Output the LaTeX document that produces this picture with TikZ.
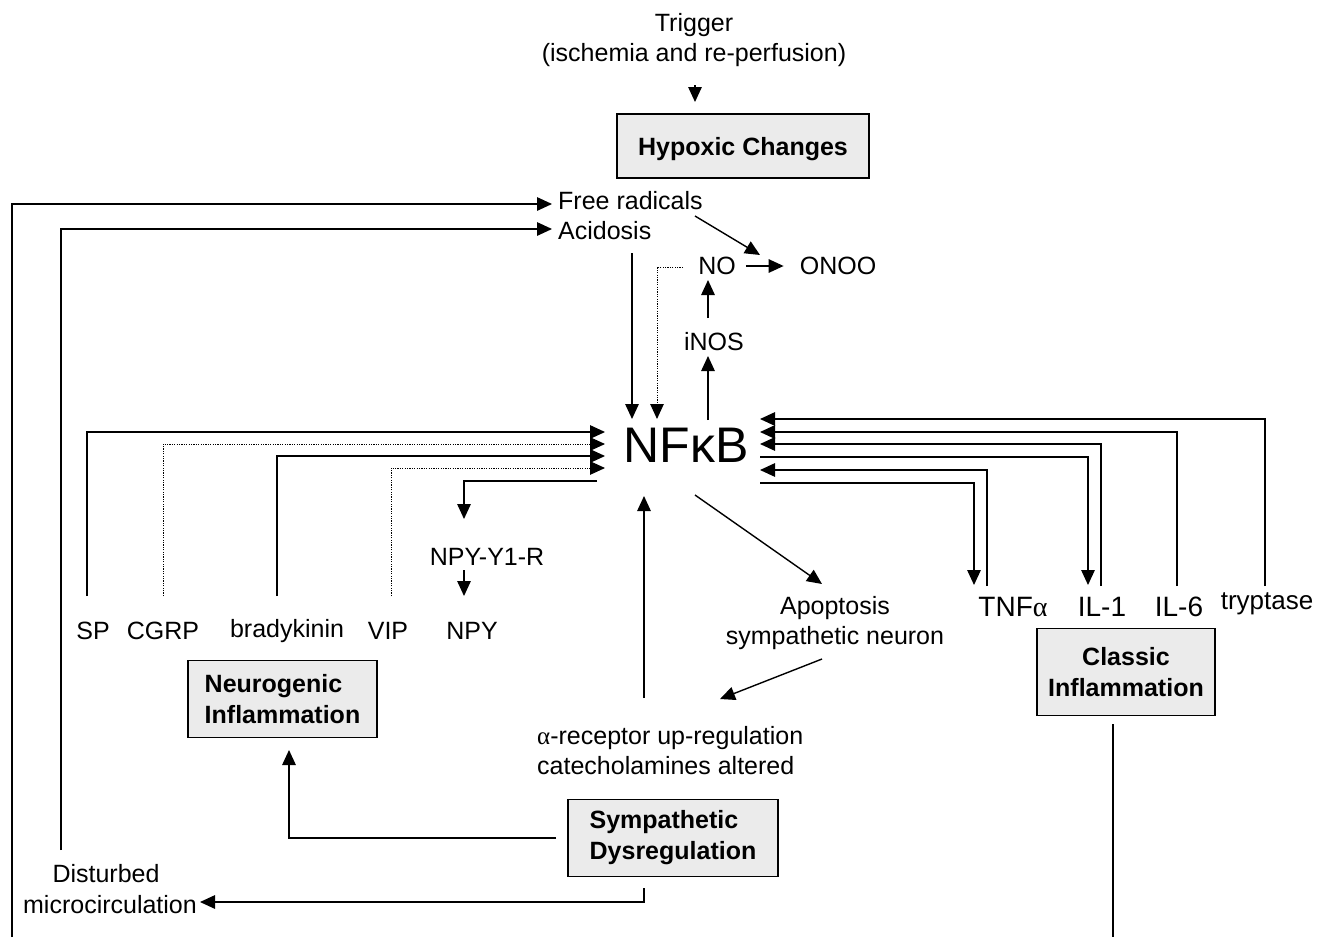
\documentclass[tikz,border=0pt]{standalone}
\usepackage{fontspec}
\setmainfont{Liberation Sans}
\newfontfamily\grk{Liberation Serif}
\usetikzlibrary{arrows.meta}
\begin{document}
\begin{tikzpicture}[x=1pt,y=-1pt,
  every node/.style={inner sep=0pt, font=\fontsize{25}{30}\selectfont},
  arr/.style={-{Triangle[length=15pt,width=13.5pt]}, line width=1.4pt},
  ln/.style={line width=1.4pt},
  dotarr/.style={-{Triangle[length=15pt,width=13.5pt]}, line width=1pt, dash pattern=on 1.2pt off 1.2pt},
  box/.style={draw, line width=1.6pt, fill=black!8, font=\fontsize{25}{31}\selectfont\bfseries},
  lbl/.style={align=center},
  big/.style={font=\fontsize{28}{32}\selectfont}
]
\useasboundingbox (0,0) rectangle (1321,937);

% top
\node (trig) at (694,25) {Trigger};
\node (isch) at (694,55) {(ischemia and re-perfusion)};
\node[box, text depth=0pt, minimum width=252pt, minimum height=64pt] (hyp) at (743,146) {Hypoxic Changes};
\coordinate (t1) at (695,85); \coordinate (t2) at (695,102);
\draw[arr] (t1) -- (t2);

\node[anchor=west] (fr) at (558,201) {Free radicals};
\node[anchor=west] (acid) at (558,231) {Acidosis};
\coordinate (b1) at (12,937); \coordinate (frin) at (552,204);
\draw[arr] (b1) |- (frin);
\coordinate (b2) at (61,850); \coordinate (acin) at (552,229);
\draw[arr] (b2) |- (acin);

\node (no) at (717,266) {NO};
\node (onoo) at (838,266) {ONOO};
\draw[arr, shorten <=10pt, shorten >=16pt] (no.east) -- (onoo.west);
\coordinate (frd) at (695,216); \coordinate (frt) at (760,255);
\draw[arr] (frd) -- (frt);

% NFkB
\node[font=\fontsize{50}{60}\selectfont] (nft) at (686,445) {NFκB};

\coordinate (dot1) at (683,267); \coordinate (dot2) at (657,419);
\draw[dotarr] (dot1) -| (dot2);
\coordinate (ac1) at (632,253); \coordinate (ac2) at (632,419);
\draw[arr] (ac1) -- (ac2);

\node (inos) at (714,342) {iNOS};
\coordinate (in1) at (708,318); \coordinate (in2) at (708,280);
\draw[arr] (in1) -- (in2);
\coordinate (nfu1) at (708,420); \coordinate (nfu2) at (708,356);
\draw[arr] (nfu1) -- (nfu2);

% left inputs
\node (sp) at (93,631) {SP};
\node (cgrp) at (163,631) {CGRP};
\node (brady) at (287,631) {bradykinin};
\node (vip) at (388,631) {VIP};
\node (npy) at (472,631) {NPY};
\node (npyr) at (487,557) {NPY-Y1-R};

\coordinate (spb) at (87,596); \coordinate (nfl1) at (605,432);
\draw[arr] (spb) |- (nfl1);
\coordinate (cgb) at (163,596); \coordinate (nfl2) at (605,444);
\draw[dotarr] (cgb) |- (nfl2);
\coordinate (brb) at (277,596); \coordinate (nfl3) at (605,456);
\draw[arr] (brb) |- (nfl3);
\coordinate (vib) at (391,596); \coordinate (nfl4) at (605,468);
\draw[dotarr] (vib) |- (nfl4);
\coordinate (nfl5) at (597,481); \coordinate (nyt) at (464,519);
\draw[arr] (nfl5) -| (nyt);
\coordinate (ny1) at (464,570); \coordinate (ny2) at (464,596);
\draw[arr] (ny1) -- (ny2);

% right inputs / outputs
\node[big] (tnf) at (1013,607) {TNF{\grk α}};
\node[big] (il1) at (1102,607) {IL-1};
\node[big] (il6) at (1179,607) {IL-6};
\node[font=\fontsize{26}{30}\selectfont] (tryp) at (1267,604) {tryptase};

\coordinate (trb) at (1265,586); \coordinate (nfr1) at (760,419);
\draw[arr] (trb) |- (nfr1);
\coordinate (i6b) at (1177,586); \coordinate (nfr2) at (760,432);
\draw[arr] (i6b) |- (nfr2);
\coordinate (i1b) at (1101,586); \coordinate (nfr3) at (760,444);
\draw[arr] (i1b) |- (nfr3);
\coordinate (nfr4) at (760,457); \coordinate (i1t) at (1088,585);
\draw[arr] (nfr4) -| (i1t);
\coordinate (tnb) at (987,586); \coordinate (nfr5) at (760,470);
\draw[arr] (tnb) |- (nfr5);
\coordinate (nfr6) at (760,483); \coordinate (tnt) at (974,585);
\draw[arr] (nfr6) -| (tnt);

\node[box, align=center, minimum width=178pt, minimum height=87pt] (classic) at (1126,672) {Classic\\Inflammation};
\coordinate (cl1) at (1113,724); \coordinate (cl2) at (1113,937);
\draw[ln] (cl1) -- (cl2);

% apoptosis and alpha
\node[lbl] (apo) at (835,623) {Apoptosis\\sympathetic neuron};
\coordinate (ap1) at (695,495); \coordinate (ap2) at (822,584);
\draw[arr] (ap1) -- (ap2);
\coordinate (ap3) at (822,659); \coordinate (ap4) at (720,699);
\draw[arr] (ap3) -- (ap4);
\node[anchor=west, align=left] (alpha) at (537,751) {{\grk α}-receptor up-regulation\\catecholamines altered};
\coordinate (al1) at (644,698); \coordinate (al2) at (644,496);
\draw[arr] (al1) -- (al2);

% bottom boxes
\node[box, align=left, minimum width=189pt, minimum height=77pt] (neuro) at (282.5,699) {Neurogenic\\Inflammation};
\node[box, align=left, minimum width=210pt, minimum height=77pt] (symp) at (673,838) {Sympathetic\\Dysregulation};
\coordinate (sy1) at (556,838); \coordinate (ne1) at (289,750);
\draw[arr] (sy1) -| (ne1);

\node (dist) at (106,874) {Disturbed};
\node (micro) at (110,905) {microcirculation};
\coordinate (sy2) at (644,888); \coordinate (mc1) at (200,902);
\draw[arr] (sy2) |- (mc1);
\end{tikzpicture}
\end{document}
